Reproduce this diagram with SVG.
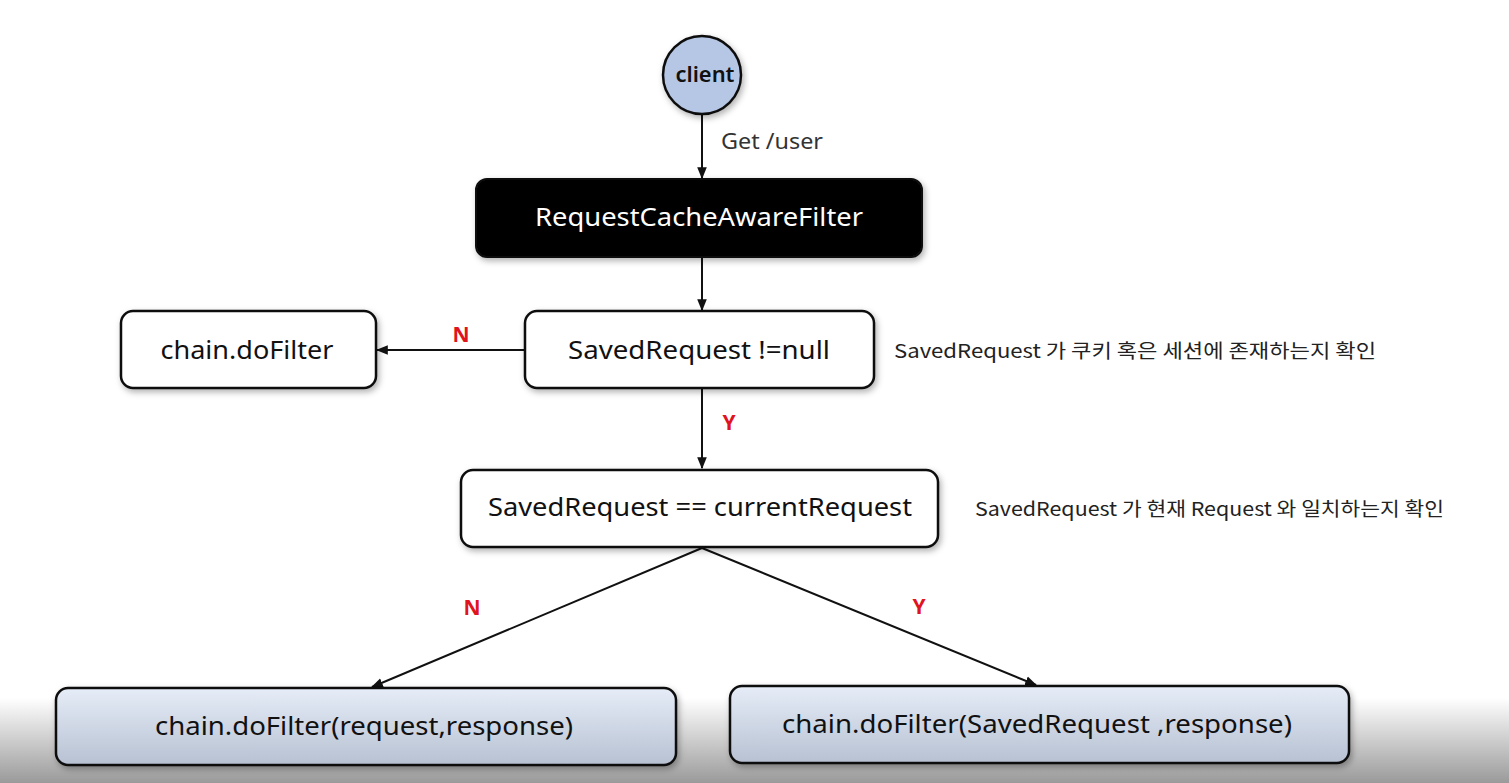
<svg xmlns="http://www.w3.org/2000/svg" width="1509" height="783" viewBox="0 0 1509 783">
<style>
.box{fill:#fff;stroke:#111;stroke-width:2.5}
.lbl{font-family:"Noto Sans","Open Sans","Noto Sans CJK KR",sans-serif;font-size:26px;fill:#111;text-anchor:middle}
.note{font-family:"Noto Sans CJK KR","Noto Sans",sans-serif;font-size:19px;fill:#222}
.yn{font-family:"Noto Sans","Liberation Sans",sans-serif;font-size:21px;font-weight:bold;fill:#e0141e}
.edge{stroke:#111;stroke-width:2;fill:none;marker-end:url(#ah)}
</style>
<defs>
<marker id="ah" viewBox="0 0 10 10" refX="9" refY="5" markerWidth="6" markerHeight="6" orient="auto-start-reverse" markerUnits="strokeWidth">
<path d="M0,1 L10,5 L0,9 z" fill="#111"/>
</marker>
<filter id="sh" x="-10%" y="-20%" width="120%" height="150%">
<feDropShadow dx="2" dy="3" stdDeviation="3" flood-color="#000" flood-opacity="0.3"/>
</filter>
<linearGradient id="bg" x1="0" y1="0" x2="0" y2="1">
<stop offset="0" stop-color="#ffffff"/>
<stop offset="1" stop-color="#9a9a9a"/>
</linearGradient>
<linearGradient id="blue" x1="0" y1="0" x2="0" y2="1">
<stop offset="0" stop-color="#e6edf8"/>
<stop offset="1" stop-color="#b7c1d2"/>
</linearGradient>
</defs>
<rect x="0" y="0" width="1509" height="783" fill="#fff"/>
<rect x="0" y="698" width="1509" height="85" fill="url(#bg)"/>

<g id="connectors">
<line class="edge" x1="702" y1="114" x2="702" y2="178"/>
<line class="edge" x1="702" y1="258" x2="702" y2="310"/>
<line class="edge" x1="525" y1="350" x2="377" y2="350"/>
<line class="edge" x1="702" y1="389" x2="702" y2="468"/>
<line class="edge" x1="702" y1="548" x2="372" y2="687"/>
<line class="edge" x1="702" y1="548" x2="1036" y2="685"/>
<text class="note" x="721" y="149" style="font-family:'Noto Sans',sans-serif;font-size:21px;fill:#333" textLength="102" lengthAdjust="spacingAndGlyphs">Get /user</text>
<text class="yn" x="461" y="342" text-anchor="middle">N</text>
<text class="yn" x="729" y="430" text-anchor="middle">Y</text>
<text class="yn" x="472" y="615" text-anchor="middle">N</text>
<text class="yn" x="919" y="614" text-anchor="middle">Y</text>
</g>

<g id="client">
<circle cx="702" cy="75" r="39" fill="#b6c7e6" stroke="#111" stroke-width="2.5" filter="url(#sh)"/>
<text class="lbl" x="705" y="82" style="font-size:22px;font-weight:600" textLength="59" lengthAdjust="spacingAndGlyphs">client</text>
</g>

<g id="filter">
<rect x="476" y="179" width="446" height="78" rx="11" fill="#000" stroke="#111" stroke-width="2" filter="url(#sh)"/>
<text class="lbl" x="699" y="226" style="fill:#fff" textLength="328" lengthAdjust="spacingAndGlyphs">RequestCacheAwareFilter</text>
</g>

<g id="savedNotNull">
<rect class="box" x="525" y="311" width="349" height="77" rx="12" filter="url(#sh)"/>
<text class="lbl" x="699" y="359" textLength="262" lengthAdjust="spacingAndGlyphs">SavedRequest !=null</text>
</g>

<g id="chainDoFilter">
<rect class="box" x="121" y="311" width="255" height="77" rx="12" filter="url(#sh)"/>
<text class="lbl" x="247" y="359" textLength="173" lengthAdjust="spacingAndGlyphs">chain.doFilter</text>
</g>

<g id="note1">
<text class="note" x="894" y="358" textLength="482" lengthAdjust="spacingAndGlyphs">SavedRequest 가 쿠키 혹은 세션에 존재하는지 확인</text>
</g>

<g id="savedEqCurrent">
<rect class="box" x="461" y="470" width="477" height="77" rx="12" filter="url(#sh)"/>
<text class="lbl" x="700" y="516" textLength="424" lengthAdjust="spacingAndGlyphs">SavedRequest == currentRequest</text>
</g>

<g id="note2">
<text class="note" x="975" y="516" textLength="469" lengthAdjust="spacingAndGlyphs">SavedRequest 가 현재 Request 와 일치하는지 확인</text>
</g>

<g id="chainReq">
<rect x="56" y="688" width="620" height="77" rx="12" fill="url(#blue)" stroke="#111" stroke-width="2.5" filter="url(#sh)"/>
<text class="lbl" x="364" y="735" textLength="418" lengthAdjust="spacingAndGlyphs">chain.doFilter(request,response)</text>
</g>

<g id="chainSaved">
<rect x="730" y="686" width="619" height="77" rx="12" fill="url(#blue)" stroke="#111" stroke-width="2.5" filter="url(#sh)"/>
<text class="lbl" x="1037" y="733" textLength="510" lengthAdjust="spacingAndGlyphs">chain.doFilter(SavedRequest ,response)</text>
</g>
</svg>
